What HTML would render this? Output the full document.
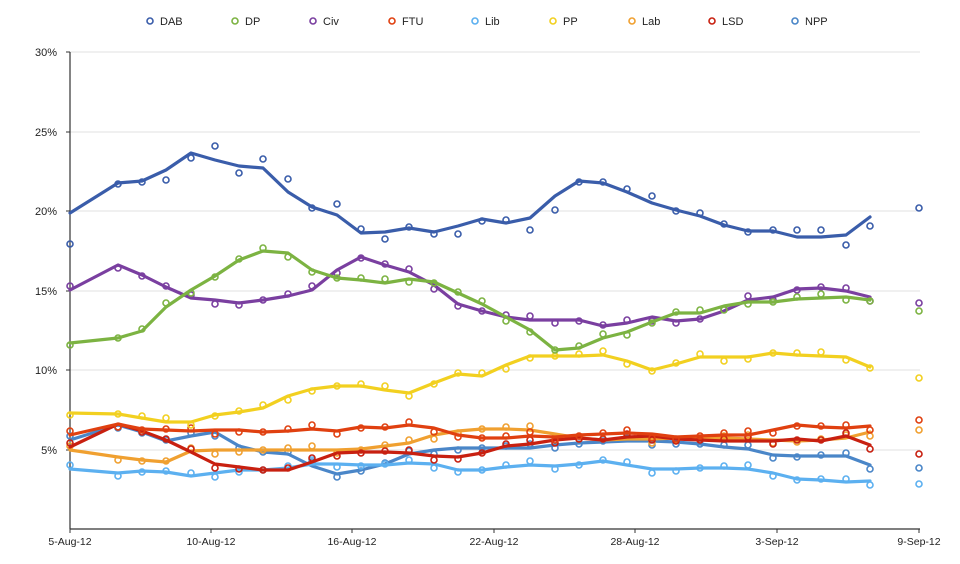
<!DOCTYPE html>
<html><head><meta charset="utf-8"><style>
html,body{margin:0;padding:0;background:#fff;}
svg{display:block;font-family:"Liberation Sans",Arial,sans-serif;}
</style></head><body>
<svg id="c" width="960" height="564" xmlns="http://www.w3.org/2000/svg"></svg>
<script>
const S=document.getElementById('c');let h='';
// gridlines
[[52,'30%'],[132,'25%'],[211,'20%'],[291,'15%'],[370,'10%'],[450,'5%']].forEach(([y,t])=>{
h+=`<line x1="70" y1="${y}" x2="920" y2="${y}" stroke="#e2e2e2" stroke-width="1"/>`;
h+=`<line x1="66" y1="${y}" x2="70" y2="${y}" stroke="#333"/>`;
h+=`<text x="57" y="${y+4}" font-size="11" text-anchor="end" fill="#222">${t}</text>`;});
h+=`<line x1="70" y1="52" x2="70" y2="529" stroke="#333" stroke-width="1.2"/>`;
h+=`<line x1="70" y1="529" x2="920" y2="529" stroke="#333" stroke-width="1.2"/>`;
[[70,'5-Aug-12'],[211,'10-Aug-12'],[352,'16-Aug-12'],[494,'22-Aug-12'],[635,'28-Aug-12'],[777,'3-Sep-12'],[919,'9-Sep-12']].forEach(([x,t])=>{
h+=`<line x1="${x}" y1="529" x2="${x}" y2="533" stroke="#333"/>`;
h+=`<text x="${x}" y="545" font-size="10.5" text-anchor="middle" fill="#222">${t}</text>`;});
const X=[70,118,142,166,191,215,239,263,288,312,337,361,385,409,434,458,482,506,530,555,579,603,627,652,676,700,724,748,773,797,821,846,870];
const ser=[
['NPP','#4a86c8',[440,425,432,441,436,432,446,452,454,466,474,470,464,454,450,448,448,448,448,445,443,442,441,441,442,444,447,449,455,456,456,456,465],468],
['Lib','#5cb0f0',[469,473,471,472,476,473,470,470,468,464,464,465,465,463,464,470,470,467,465,466,464,461,465,469,469,468,468,469,473,479,480,482,481],484],
['Lab','#f0a030',[450,457,460,462,451,450,450,450,450,450,450,449,446,443,435,431,429,429,430,434,438,440,439,439,438,438,438,439,440,441,440,438,432],430],
['LSD','#c82010',[447,424,431,440,452,464,467,470,470,462,453,452,452,453,456,457,453,446,444,440,438,440,437,436,439,440,441,441,441,439,441,436,445],454],
['FTU','#e04010',[435,424,429,430,431,430,430,432,431,429,431,427,428,425,428,435,438,438,436,437,435,434,433,434,437,436,435,435,430,425,427,428,426],420],
['PP','#f2d020',[413,414,418,422,422,415,412,408,396,389,386,386,390,393,383,374,376,365,356,356,356,355,361,370,364,357,357,357,353,355,356,357,367],378],
['Civ','#7a3fa0',[290,265,275,287,298,300,303,300,296,290,270,257,265,272,285,304,311,317,320,320,320,326,323,317,321,319,311,300,297,289,288,291,297],303],
['DP','#7cb342',[343,338,331,307,290,276,260,251,253,270,278,280,283,279,282,293,304,317,330,350,348,338,332,322,313,313,306,302,302,299,298,297,300],311],
['DAB','#3a5daa',[213,183,181,170,153,160,166,168,192,207,215,233,232,228,232,226,219,223,218,196,181,183,192,203,210,216,225,231,231,237,237,235,217],208]
];
const dabM=[244,184,182,180,158,146,173,159,179,208,204,229,239,227,234,234,221,220,230,210,182,182,189,196,211,213,224,232,230,230,230,245,226];
ser.forEach(([n,c,Y,last])=>{
let p=X.map((x,i)=>x+','+Y[i]).join(' ');
h+=`<polyline points="${p}" fill="none" stroke="${c}" stroke-width="3.2" stroke-linejoin="round" stroke-linecap="round"/>`;
X.forEach((x,i)=>{let y=n==='DAB'?dabM[i]:Y[i]+((i*7+n.length*3)%9-4);
h+=`<circle cx="${x}" cy="${y}" r="3" fill="none" stroke="${c}" stroke-width="1.6"/>`;});
h+=`<circle cx="919" cy="${last}" r="3" fill="none" stroke="${c}" stroke-width="1.6"/>`;});
[['DAB','#3a5daa',150],['DP','#7cb342',235],['Civ','#7a3fa0',313],['FTU','#e04010',392],['Lib','#5cb0f0',475],['PP','#f2d020',553],['Lab','#f0a030',632],['LSD','#c82010',712],['NPP','#4a86c8',795]].forEach(([t,c,x])=>{
h+=`<circle cx="${x}" cy="21" r="3" fill="none" stroke="${c}" stroke-width="1.6"/>`;
h+=`<text x="${x+10}" y="25" font-size="11" fill="#222">${t}</text>`;});
S.innerHTML=h;
</script>
</body></html>
